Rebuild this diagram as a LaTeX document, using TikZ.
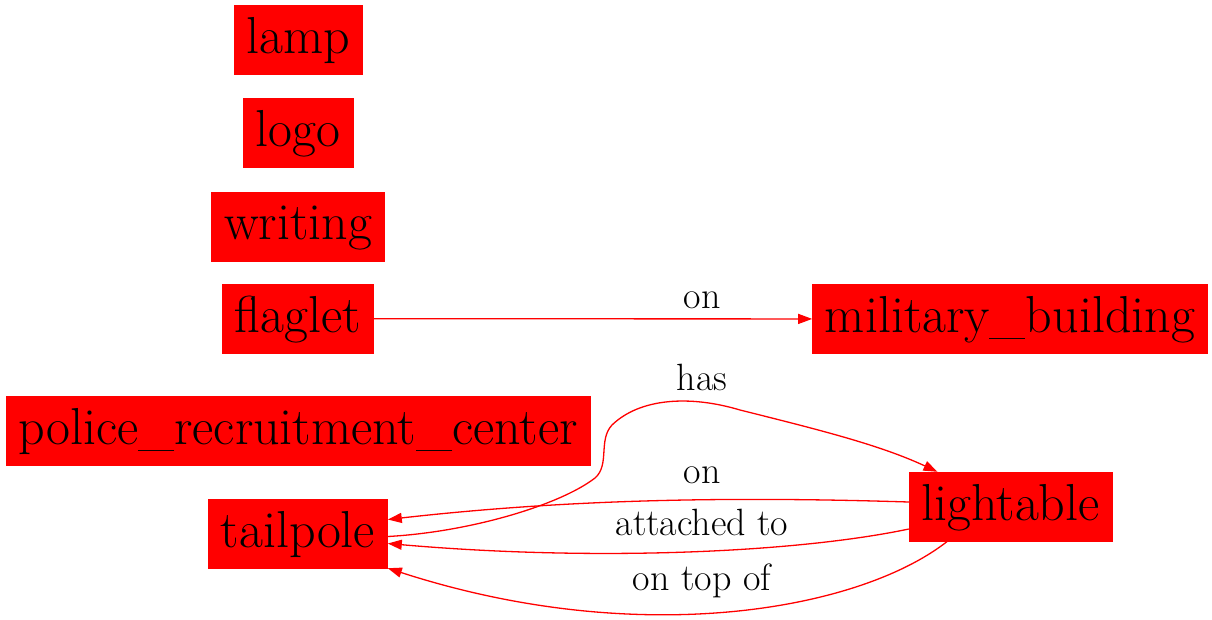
\documentclass[tikz,border=0pt]{standalone}
\usetikzlibrary{arrows.meta,positioning}
\tikzset{
  thing/.style={fill=red, draw=red, inner xsep=12.5pt, minimum height=69pt, text height=36pt, text depth=9pt, font=\fontsize{52}{60}\selectfont},
  rel/.style={font=\fontsize{38}{44}\selectfont, anchor=base, inner sep=0pt},
  link/.style={-{Triangle[length=14pt,width=10pt]}, line width=1.3pt, draw=red}
}

\begin{document}
\begin{tikzpicture}[x=1pt, y=-1pt]
  \useasboundingbox (0,0) rectangle (1212,619);

  \node[thing] (lamp) at (298,39.5) {lamp};
  \node[thing, below=24pt of lamp] (logo) {logo};
  \node[thing, below=24pt of logo] (writing) {writing};
  \node[thing, below=23pt of writing] (flaglet) {flaglet};
  \node[thing, below=43pt of flaglet] (police) {police\_recruitment\_center};
  \node[thing, below=33pt of police] (tailpole) {tailpole};
  \node[thing] (military) at (1010,319) {military\_building};
  \node[thing] (lightable) at (1010.5,506.5) {lightable};

  \draw[link] (flaglet) -- (military);
  \node[rel] (lon1) at (702,308) {on};

  \draw[link] ([yshift=-3pt]tailpole.east) .. controls (470,532) and (560,505) .. (595,478)
    .. controls (610,465) and (598,440) .. (612,425)
    .. controls (640,398) and (690,395) .. (740,410)
    .. controls (820,430) and (880,445) .. ([xshift=-73pt]lightable.north);
  \node[rel] (lhas) at (702,390) {has};

  \draw[link] ([yshift=4.5pt]lightable.west) .. controls (720,496) and (560,500) .. ([yshift=14pt]tailpole.east);
  \node[rel] (lon2) at (702,483) {on};

  \draw[link] ([yshift=-22.5pt]lightable.west) .. controls (800,552) and (600,562) .. ([yshift=-10pt]tailpole.east);
  \node[rel] (lattached) at (702,535) {attached to};

  \draw[link] ([xshift=-63pt]lightable.south) .. controls (860,610) and (640,650) .. (tailpole.south east);
  \node[rel] (lontop) at (702,590) {on top of};
\end{tikzpicture}
\end{document}
